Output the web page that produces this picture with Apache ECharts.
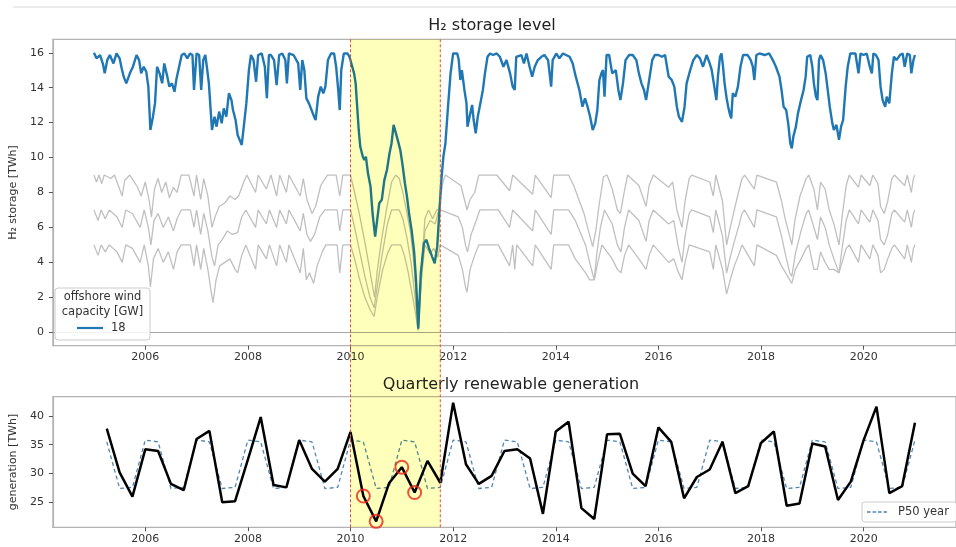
<!DOCTYPE html>
<html><head><meta charset="utf-8">
<script src="https://cdn.jsdelivr.net/npm/echarts@6/dist/echarts.min.js"></script>
<style>html,body{margin:0;padding:0;background:#fff}#c{width:956px;height:547px}</style>
</head><body><div id="c"></div>
<script>
// ---------- tick labels ----------
const yearTicks = [2006, 2008, 2010, 2012, 2014, 2016, 2018, 2020];
const storageTicks = [0, 2, 4, 6, 8, 10, 12, 14, 16];
const genTicks = [25, 30, 35, 40];
const highlightSpan = [2010.0, 2011.75];

// ---------- top panel: H2 storage level [TWh], 18 GW offshore wind ----------
const storage18 = [[2005.00,16.0],[2005.05,15.68],[2005.12,15.87],[2005.18,15.30],[2005.21,14.82],[2005.26,15.58],[2005.31,15.87],[2005.38,15.39],[2005.44,15.96],[2005.50,15.68],[2005.54,15.11],[2005.58,14.63],[2005.63,14.25],[2005.70,14.82],[2005.76,15.20],[2005.83,15.87],[2005.88,15.58],[2005.92,14.82],[2005.97,15.20],[2006.02,14.91],[2006.06,14.06],[2006.10,11.58],[2006.15,12.34],[2006.19,13.10],[2006.23,15.20],[2006.28,14.82],[2006.33,14.25],[2006.37,15.39],[2006.43,14.63],[2006.47,14.06],[2006.52,14.25],[2006.57,13.77],[2006.61,14.53],[2006.66,15.20],[2006.71,15.87],[2006.76,15.96],[2006.82,15.68],[2006.87,15.96],[2006.92,15.87],[2006.95,13.87],[2007.00,15.96],[2007.05,15.87],[2007.09,13.87],[2007.13,15.58],[2007.17,15.87],[2007.20,15.20],[2007.24,14.25],[2007.30,11.58],[2007.35,12.34],[2007.39,11.77],[2007.44,12.63],[2007.49,11.96],[2007.53,12.82],[2007.58,12.34],[2007.63,13.68],[2007.68,13.29],[2007.71,12.72],[2007.76,12.15],[2007.80,11.29],[2007.84,11.01],[2007.88,10.72],[2007.92,11.77],[2007.97,13.10],[2008.02,15.01],[2008.06,15.87],[2008.11,15.58],[2008.16,14.34],[2008.20,15.87],[2008.27,15.96],[2008.33,15.2],[2008.37,13.4],[2008.41,15.87],[2008.45,15.87],[2008.51,15.58],[2008.56,14.15],[2008.61,15.87],[2008.67,15.96],[2008.73,15.58],[2008.76,14.25],[2008.80,15.96],[2008.89,15.87],[2008.98,15.39],[2009.02,13.87],[2009.06,15.58],[2009.10,15.01],[2009.14,13.39],[2009.19,13.10],[2009.24,12.72],[2009.29,12.34],[2009.32,12.15],[2009.37,13.49],[2009.42,14.06],[2009.47,13.68],[2009.51,14.06],[2009.56,15.58],[2009.62,15.96],[2009.68,15.96],[2009.72,15.20],[2009.76,13.87],[2009.79,12.72],[2009.82,15.01],[2009.87,15.96],[2009.94,15.96],[2009.98,15.77],[2010.01,15.68],[2010.07,14.82],[2010.10,14.25],[2010.13,12.91],[2010.16,11.58],[2010.19,10.63],[2010.24,10.05],[2010.27,9.86],[2010.30,10.05],[2010.34,9.10],[2010.39,8.34],[2010.43,6.81],[2010.48,5.48],[2010.52,6.43],[2010.56,7.39],[2010.61,7.58],[2010.66,8.72],[2010.71,9.29],[2010.76,10.24],[2010.80,10.82],[2010.84,11.87],[2010.87,11.77],[2010.92,11.01],[2010.97,10.43],[2011.01,9.67],[2011.06,8.53],[2011.10,7.77],[2011.14,6.81],[2011.19,5.86],[2011.24,4.6],[2011.28,2.8],[2011.32,0.2],[2011.37,3.38],[2011.43,5.1],[2011.48,5.29],[2011.53,4.81],[2011.59,4.33],[2011.64,3.95],[2011.69,4.9],[2011.73,6.8],[2011.77,8.7],[2011.81,10.05],[2011.85,10.82],[2011.90,12.91],[2011.95,14.82],[2012.00,15.96],[2012.08,15.96],[2012.11,15.58],[2012.14,14.44],[2012.17,15.01],[2012.22,13.87],[2012.26,13.10],[2012.28,11.77],[2012.32,12.34],[2012.37,13.01],[2012.40,12.15],[2012.44,11.39],[2012.48,12.34],[2012.53,13.10],[2012.58,13.87],[2012.62,14.82],[2012.67,15.77],[2012.72,15.96],[2012.78,15.87],[2012.85,15.96],[2012.91,15.77],[2012.98,15.20],[2013.04,15.58],[2013.11,14.82],[2013.16,14.06],[2013.20,13.87],[2013.23,15.77],[2013.33,15.87],[2013.38,15.39],[2013.43,15.96],[2013.49,15.20],[2013.54,14.63],[2013.59,15.20],[2013.65,15.58],[2013.72,15.77],[2013.78,15.87],[2013.85,15.58],[2013.91,14.06],[2013.94,15.58],[2014.01,15.96],[2014.07,15.68],[2014.14,15.96],[2014.20,15.87],[2014.27,15.77],[2014.33,15.39],[2014.39,14.63],[2014.46,13.87],[2014.52,12.91],[2014.57,13.39],[2014.62,12.91],[2014.67,12.34],[2014.72,11.58],[2014.77,11.96],[2014.81,12.72],[2014.85,14.44],[2014.89,14.82],[2014.92,15.01],[2014.95,13.49],[2014.99,15.87],[2015.04,15.87],[2015.10,14.82],[2015.17,15.01],[2015.22,13.87],[2015.26,13.29],[2015.31,14.25],[2015.36,15.58],[2015.43,15.87],[2015.50,15.87],[2015.57,15.58],[2015.62,14.82],[2015.67,14.25],[2015.72,13.87],[2015.76,13.29],[2015.81,14.25],[2015.88,15.58],[2015.93,15.87],[2016.00,15.87],[2016.07,15.77],[2016.13,15.87],[2016.20,14.63],[2016.26,14.44],[2016.31,14.06],[2016.36,12.91],[2016.40,12.34],[2016.46,12.05],[2016.51,12.91],[2016.55,14.25],[2016.62,15.01],[2016.68,15.58],[2016.75,15.87],[2016.81,15.68],[2016.87,15.20],[2016.94,15.87],[2017.00,15.39],[2017.04,15.0],[2017.09,14.06],[2017.13,13.29],[2017.16,14.63],[2017.20,15.77],[2017.23,15.96],[2017.26,15.20],[2017.29,14.25],[2017.33,13.39],[2017.36,12.91],[2017.39,12.53],[2017.42,12.24],[2017.45,13.68],[2017.50,13.49],[2017.55,14.06],[2017.60,15.20],[2017.65,15.87],[2017.74,15.87],[2017.80,15.58],[2017.84,15.20],[2017.87,14.44],[2017.91,15.87],[2017.97,15.96],[2018.07,15.87],[2018.16,15.96],[2018.23,15.58],[2018.29,15.20],[2018.36,14.63],[2018.40,13.87],[2018.44,12.91],[2018.49,12.72],[2018.53,11.96],[2018.57,10.82],[2018.60,10.53],[2018.63,11.20],[2018.68,11.77],[2018.72,12.53],[2018.78,13.29],[2018.83,13.87],[2018.87,14.63],[2018.90,15.77],[2018.96,15.87],[2019.00,15.20],[2019.03,14.25],[2019.07,13.49],[2019.10,13.29],[2019.13,15.58],[2019.16,15.87],[2019.21,15.58],[2019.26,14.82],[2019.30,13.87],[2019.34,12.91],[2019.39,11.96],[2019.42,11.58],[2019.47,11.87],[2019.52,11.01],[2019.56,11.77],[2019.60,12.15],[2019.65,14.06],[2019.69,15.20],[2019.74,15.96],[2019.84,15.96],[2019.90,14.82],[2019.94,15.96],[2020.00,15.87],[2020.06,15.96],[2020.12,15.20],[2020.16,14.82],[2020.19,15.96],[2020.24,15.87],[2020.29,15.58],[2020.33,14.06],[2020.37,13.29],[2020.42,12.91],[2020.45,13.49],[2020.50,13.10],[2020.55,14.82],[2020.59,15.77],[2020.64,15.58],[2020.71,15.87],[2020.76,15.96],[2020.80,15.20],[2020.85,15.96],[2020.90,15.87],[2020.93,14.82],[2020.97,15.58],[2021.00,15.87]];

// other capacities (grey)
const storageCap9 = [[2005.00,9.0],[2005.05,8.6],[2005.10,9.0],[2005.15,8.5],[2005.20,9.0],[2005.33,8.8],[2005.40,9.0],[2005.55,7.8],[2005.60,8.7],[2005.70,9.0],[2005.85,8.3],[2005.92,7.8],[2006.00,8.6],[2006.08,7.5],[2006.12,6.6],[2006.18,8.2],[2006.25,8.8],[2006.32,8.0],[2006.40,8.6],[2006.47,7.7],[2006.55,8.3],[2006.62,8.0],[2006.70,9.0],[2006.85,9.0],[2006.95,7.8],[2007.00,9.0],[2007.08,7.6],[2007.14,8.8],[2007.22,7.8],[2007.30,6.0],[2007.36,6.6],[2007.44,7.2],[2007.55,7.4],[2007.65,7.8],[2007.75,7.6],[2007.82,7.8],[2007.92,8.6],[2007.98,9.0],[2008.15,8.0],[2008.20,9.0],[2008.36,8.2],[2008.45,9.0],[2008.56,7.8],[2008.62,9.0],[2008.75,8.0],[2008.80,9.0],[2009.02,7.8],[2009.08,8.8],[2009.15,7.6],[2009.25,6.8],[2009.32,7.2],[2009.42,8.4],[2009.55,9.0],[2009.72,9.0],[2009.79,7.8],[2009.85,9.0],[2010.00,9.0],[2010.08,8.0],[2010.17,6.8],[2010.27,5.3],[2010.35,4.0],[2010.42,2.8],[2010.47,2.0],[2010.52,3.5],[2010.60,5.2],[2010.70,7.0],[2010.80,8.6],[2010.88,9.0],[2010.95,8.8],[2011.02,8.0],[2011.10,6.8],[2011.17,5.7],[2011.24,3.8],[2011.32,0.3],[2011.38,3.0],[2011.45,5.8],[2011.55,6.4],[2011.65,6.2],[2011.72,7.0],[2011.80,8.6],[2011.85,9.0],[2012.15,8.4],[2012.22,7.6],[2012.27,7.0],[2012.33,7.6],[2012.42,8.0],[2012.50,9.0],[2012.85,9.0],[2013.10,8.1],[2013.16,9.0],[2013.55,7.9],[2013.60,9.0],[2013.91,7.7],[2013.96,9.0],[2014.25,9.0],[2014.35,8.4],[2014.45,7.6],[2014.55,6.8],[2014.62,6.0],[2014.72,4.9],[2014.78,5.8],[2014.85,7.4],[2014.93,8.9],[2015.00,9.0],[2015.10,8.2],[2015.20,7.0],[2015.26,6.8],[2015.32,7.8],[2015.40,9.0],[2015.62,8.4],[2015.76,7.2],[2015.82,8.4],[2015.90,9.0],[2016.20,8.3],[2016.28,8.6],[2016.36,7.0],[2016.46,6.0],[2016.52,7.5],[2016.60,8.8],[2016.65,9.0],[2017.00,8.6],[2017.07,7.8],[2017.12,9.0],[2017.25,7.5],[2017.33,5.0],[2017.40,6.0],[2017.48,7.0],[2017.56,8.0],[2017.63,8.8],[2017.68,9.0],[2017.87,8.2],[2017.92,9.0],[2018.30,8.6],[2018.40,7.5],[2018.47,6.5],[2018.55,5.6],[2018.60,5.0],[2018.66,6.4],[2018.76,7.8],[2018.88,8.8],[2018.93,9.0],[2019.03,8.2],[2019.10,7.0],[2019.16,8.6],[2019.25,8.2],[2019.33,7.0],[2019.42,6.2],[2019.52,5.0],[2019.58,6.6],[2019.66,8.4],[2019.72,9.0],[2019.90,8.3],[2019.95,9.0],[2020.12,8.4],[2020.18,9.0],[2020.28,8.5],[2020.33,7.2],[2020.40,6.8],[2020.47,7.5],[2020.55,8.8],[2020.60,9.0],[2020.80,8.4],[2020.85,9.0],[2020.93,8.0],[2020.97,8.8],[2021.00,9.0]];

const storageCap7 = [[2005.00,7.0],[2005.08,6.4],[2005.14,7.0],[2005.22,6.5],[2005.30,7.0],[2005.45,6.6],[2005.55,6.0],[2005.62,7.0],[2005.75,6.8],[2005.90,6.0],[2005.98,7.0],[2006.06,6.0],[2006.11,5.0],[2006.17,6.4],[2006.25,6.8],[2006.35,6.0],[2006.45,6.6],[2006.55,5.8],[2006.62,6.5],[2006.70,7.0],[2006.88,7.0],[2006.95,6.0],[2007.00,7.0],[2007.08,5.6],[2007.14,6.8],[2007.22,5.8],[2007.30,4.3],[2007.35,3.8],[2007.42,5.0],[2007.50,5.3],[2007.60,5.8],[2007.70,5.6],[2007.80,5.7],[2007.88,6.6],[2007.96,7.0],[2008.15,6.0],[2008.20,7.0],[2008.36,6.2],[2008.42,7.0],[2008.56,6.0],[2008.62,7.0],[2008.75,6.2],[2008.80,7.0],[2009.02,5.8],[2009.08,6.8],[2009.15,5.6],[2009.22,5.2],[2009.30,5.6],[2009.40,6.6],[2009.50,7.0],[2009.74,7.0],[2009.79,5.8],[2009.85,7.0],[2010.00,7.0],[2010.08,6.0],[2010.18,4.6],[2010.28,3.2],[2010.38,2.0],[2010.46,1.4],[2010.52,2.6],[2010.62,4.5],[2010.72,6.2],[2010.80,7.0],[2010.95,7.0],[2011.02,6.5],[2011.10,5.4],[2011.18,4.0],[2011.25,2.2],[2011.32,0.1],[2011.38,3.5],[2011.45,6.5],[2011.52,7.0],[2011.60,6.5],[2011.68,7.0],[2011.75,7.0],[2012.10,6.6],[2012.18,6.0],[2012.24,5.0],[2012.28,4.6],[2012.35,5.6],[2012.45,6.4],[2012.52,7.0],[2012.88,7.0],[2013.10,6.0],[2013.16,7.0],[2013.55,5.8],[2013.60,7.0],[2013.91,5.6],[2013.96,7.0],[2014.25,7.0],[2014.38,6.4],[2014.48,5.7],[2014.58,5.0],[2014.66,4.0],[2014.75,3.0],[2014.80,4.5],[2014.87,6.0],[2014.95,7.0],[2015.10,6.2],[2015.20,5.0],[2015.27,4.6],[2015.34,6.0],[2015.42,7.0],[2015.62,6.4],[2015.76,5.2],[2015.82,6.4],[2015.90,7.0],[2016.20,6.2],[2016.30,6.4],[2016.38,5.0],[2016.46,4.0],[2016.52,5.5],[2016.60,6.8],[2016.65,7.0],[2017.00,6.6],[2017.07,5.7],[2017.12,7.0],[2017.25,5.5],[2017.33,3.4],[2017.40,4.3],[2017.48,5.2],[2017.56,6.0],[2017.63,6.8],[2017.68,7.0],[2017.87,6.0],[2017.92,7.0],[2018.30,6.6],[2018.40,5.5],[2018.48,4.4],[2018.56,3.4],[2018.60,3.2],[2018.67,4.5],[2018.78,5.8],[2018.88,6.8],[2018.93,7.0],[2019.03,6.0],[2019.10,5.3],[2019.16,6.6],[2019.25,6.0],[2019.33,5.0],[2019.42,4.2],[2019.52,3.4],[2019.58,4.8],[2019.66,6.4],[2019.72,7.0],[2019.90,6.2],[2019.95,7.0],[2020.12,6.3],[2020.18,7.0],[2020.28,6.4],[2020.33,5.3],[2020.40,5.0],[2020.47,5.6],[2020.55,6.8],[2020.60,7.0],[2020.80,6.3],[2020.85,7.0],[2020.93,6.0],[2020.97,6.8],[2021.00,7.0]];

const storageCap5 = [[2005.00,5.0],[2005.08,4.4],[2005.14,5.0],[2005.22,4.6],[2005.30,5.0],[2005.45,4.6],[2005.55,4.0],[2005.62,5.0],[2005.75,4.8],[2005.90,4.0],[2005.98,5.0],[2006.06,3.8],[2006.10,2.6],[2006.16,4.2],[2006.25,4.8],[2006.35,4.0],[2006.45,4.6],[2006.55,3.6],[2006.62,4.6],[2006.70,5.0],[2006.88,5.0],[2006.95,3.8],[2007.00,5.0],[2007.08,3.6],[2007.14,4.8],[2007.22,3.6],[2007.28,2.4],[2007.32,1.7],[2007.38,3.0],[2007.45,3.8],[2007.55,4.0],[2007.65,4.2],[2007.75,3.6],[2007.80,3.4],[2007.88,4.4],[2007.96,5.0],[2008.15,3.6],[2008.20,5.0],[2008.36,4.2],[2008.42,5.0],[2008.56,3.8],[2008.62,5.0],[2008.75,4.0],[2008.80,5.0],[2009.02,3.4],[2009.08,4.8],[2009.14,3.0],[2009.20,3.4],[2009.28,2.8],[2009.35,3.8],[2009.45,4.6],[2009.52,5.0],[2009.74,5.0],[2009.79,3.4],[2009.85,5.0],[2010.00,5.0],[2010.08,4.2],[2010.18,3.0],[2010.28,2.0],[2010.38,1.3],[2010.46,0.9],[2010.52,2.0],[2010.62,3.5],[2010.72,4.5],[2010.80,5.0],[2010.98,5.0],[2011.05,4.4],[2011.12,3.5],[2011.20,2.2],[2011.26,1.2],[2011.32,0.1],[2011.38,3.0],[2011.45,5.0],[2011.55,4.5],[2011.62,4.8],[2011.70,4.3],[2011.75,5.0],[2012.10,4.4],[2012.18,3.6],[2012.24,2.6],[2012.27,2.3],[2012.33,3.6],[2012.42,4.4],[2012.50,5.0],[2012.88,5.0],[2013.10,3.8],[2013.16,5.0],[2013.20,3.6],[2013.24,5.0],[2013.55,3.8],[2013.60,5.0],[2013.91,3.6],[2013.96,5.0],[2014.25,5.0],[2014.38,4.2],[2014.48,3.8],[2014.58,3.4],[2014.66,3.0],[2014.75,3.0],[2014.82,4.0],[2014.90,5.0],[2015.10,4.2],[2015.20,3.6],[2015.27,3.4],[2015.34,4.4],[2015.42,5.0],[2015.62,4.2],[2015.76,3.6],[2015.82,4.4],[2015.90,5.0],[2016.20,4.0],[2016.30,4.2],[2016.38,3.5],[2016.46,3.0],[2016.52,4.0],[2016.60,5.0],[2017.00,4.6],[2017.07,3.6],[2017.12,5.0],[2017.25,3.6],[2017.33,2.2],[2017.40,3.0],[2017.48,3.8],[2017.56,4.4],[2017.63,5.0],[2017.87,3.8],[2017.92,5.0],[2018.30,4.4],[2018.40,3.8],[2018.48,3.4],[2018.56,3.0],[2018.60,2.8],[2018.67,3.6],[2018.78,4.2],[2018.88,4.8],[2018.93,5.0],[2019.03,3.6],[2019.10,3.6],[2019.16,4.6],[2019.25,4.0],[2019.33,3.6],[2019.42,3.6],[2019.52,3.4],[2019.58,4.0],[2019.66,4.8],[2019.72,5.0],[2019.90,4.0],[2019.95,5.0],[2020.12,4.2],[2020.18,5.0],[2020.28,4.4],[2020.33,3.4],[2020.40,3.6],[2020.47,4.2],[2020.55,4.8],[2020.60,5.0],[2020.80,4.2],[2020.85,5.0],[2020.93,4.0],[2020.97,4.8],[2021.00,5.0]];

// ---------- bottom panel: quarterly renewable generation [TWh] ----------
const quarters = [2005.25,2005.5,2005.75,2006.0,2006.25,2006.5,2006.75,2007.0,2007.25,2007.5,2007.75,2008.0,2008.25,2008.5,2008.75,2009.0,2009.25,2009.5,2009.75,2010.0,2010.25,2010.5,2010.75,2011.0,2011.25,2011.5,2011.75,2012.0,2012.25,2012.5,2012.75,2013.0,2013.25,2013.5,2013.75,2014.0,2014.25,2014.5,2014.75,2015.0,2015.25,2015.5,2015.75,2016.0,2016.25,2016.5,2016.75,2017.0,2017.25,2017.5,2017.75,2018.0,2018.25,2018.5,2018.75,2019.0,2019.25,2019.5,2019.75,2020.0,2020.25,2020.5,2020.75,2021.0];
const generation = [37.8,30.2,26.0,34.2,33.9,28.2,27.1,36.0,37.4,25.0,25.2,32.4,39.8,28.0,27.6,35.8,30.8,28.6,30.8,37.2,26.1,21.7,28.3,31.1,26.7,32.2,28.4,42.3,31.6,28.2,29.6,33.9,34.2,32.6,23.0,37.3,39.0,24.0,22.1,36.8,36.9,30.0,27.8,38.0,35.5,25.7,29.4,30.7,35.5,26.6,27.8,35.3,37.3,24.4,24.8,35.2,34.7,25.4,28.6,35.8,41.6,26.6,27.8,38.8];
const p50Year = [35.5,27.4,27.6,35.8,35.5,27.4,27.6,35.8,35.5,27.4,27.6,35.8,35.5,27.4,27.6,35.8,35.5,27.4,27.6,35.8,35.5,27.4,27.6,35.8,35.5,27.4,27.6,35.8,35.5,27.4,27.6,35.8,35.5,27.4,27.6,35.8,35.5,27.4,27.6,35.8,35.5,27.4,27.6,35.8,35.5,27.4,27.6,35.8,35.5,27.4,27.6,35.8,35.5,27.4,27.6,35.8,35.5,27.4,27.6,35.8,35.5,27.4,27.6,35.8];
const circledQuarters = [2010.25, 2010.5, 2011.0, 2011.25];
const circledValues = [26.1, 21.7, 31.1, 26.7];

const FONT = 'DejaVu Sans';
const chart = echarts.init(document.getElementById('c'), null, {renderer: 'canvas'});

function xAxisCfg(gridIndex) {
  return {
    type: 'value', gridIndex: gridIndex, min: 2004.2, max: 2021.8,
    axisLine: {show: true, onZero: false, lineStyle: {color: '#b3b3b3', width: 1.2}},
    axisTick: {show: true, customValues: yearTicks, length: 4, lineStyle: {color: '#555'}},
    axisLabel: {customValues: yearTicks, formatter: v => String(v), fontSize: 11, color: '#333', margin: 6, fontFamily: FONT},
    splitLine: {show: false}
  };
}

const option = {
  animation: false,
  backgroundColor: '#fff',
  textStyle: {fontFamily: FONT},
  title: [
    {text: 'H\u2082 storage level', left: 487, top: 13, textAlign: 'center',
     textStyle: {fontSize: 16, fontWeight: 'normal', color: '#222', fontFamily: FONT}},
    {text: 'Quarterly renewable generation', left: 506, top: 372, textAlign: 'center',
     textStyle: {fontSize: 16, fontWeight: 'normal', color: '#222', fontFamily: FONT}}
  ],
  grid: [
    {left: 50.7, right: -5.5, top: 39.3, bottom: 201.3, show: true, borderColor: '#b3b3b3', borderWidth: 1.2},
    {left: 50.7, right: -5.5, top: 396.7, bottom: 19.7, show: true, borderColor: '#b3b3b3', borderWidth: 1.2}
  ],
  xAxis: [xAxisCfg(0), xAxisCfg(1)],
  yAxis: [
    {type: 'value', gridIndex: 0, min: -0.77, max: 16.77,
     name: 'H\u2082 storage [TWh]', nameLocation: 'middle', nameGap: 26,
     nameTextStyle: {fontSize: 11, color: '#333', fontFamily: FONT},
     axisLine: {show: true, lineStyle: {color: '#b3b3b3', width: 1.2}},
     axisTick: {show: true, customValues: storageTicks, length: 4, lineStyle: {color: '#555'}},
     axisLabel: {customValues: storageTicks, fontSize: 11, color: '#333', margin: 9, fontFamily: FONT},
     splitLine: {show: false}},
    {type: 'value', gridIndex: 1, min: 20.67, max: 43.33,
     name: 'generation [TWh]', nameLocation: 'middle', nameGap: 26,
     nameTextStyle: {fontSize: 11, color: '#333', fontFamily: FONT},
     axisLine: {show: true, lineStyle: {color: '#b3b3b3', width: 1.2}},
     axisTick: {show: true, customValues: genTicks, length: 4, lineStyle: {color: '#555'}},
     axisLabel: {customValues: genTicks, fontSize: 11, color: '#333', margin: 9, fontFamily: FONT},
     splitLine: {show: false}}
  ],
  legend: [
    {data: [{name: '18', icon: 'rect'}], left: 77, top: 322, itemWidth: 26, itemHeight: 2.2, padding: 0,
     textStyle: {fontSize: 11.5, color: '#333', fontFamily: FONT, padding: [0, 0, 0, 3]}, z: 110},
    {data: [{name: 'P50 year', icon: 'path://M0,0h3.6v1.3h-3.6z M5.5,0h3.6v1.3h-3.6z M11,0h3.6v1.3h-3.6z M16.5,0h3.5v1.3h-3.5z'}],
     left: 862, top: 502, itemWidth: 20, itemHeight: 1.3,
     padding: [4, 8, 4, 5], borderColor: '#cccccc', borderWidth: 1, borderRadius: 3,
     backgroundColor: 'rgba(255,255,255,0.85)',
     textStyle: {fontSize: 11.5, color: '#333', fontFamily: FONT, padding: [0, 0, 0, 6]}, z: 110}
  ],
  series: [
    {name: 'cap9', type: 'line', xAxisIndex: 0, yAxisIndex: 0, data: storageCap9, symbol: 'none', silent: true,
     lineStyle: {color: '#c0c0c0', width: 1.3}, z: 2,
     markLine: {silent: true, symbol: 'none', label: {show: false},
       lineStyle: {color: '#a6a6a6', width: 1, type: 'solid'}, data: [{yAxis: 0}]}},
    {name: 'cap7', type: 'line', xAxisIndex: 0, yAxisIndex: 0, data: storageCap7, symbol: 'none', silent: true,
     lineStyle: {color: '#c0c0c0', width: 1.3}, z: 2},
    {name: 'cap5', type: 'line', xAxisIndex: 0, yAxisIndex: 0, data: storageCap5, symbol: 'none', silent: true,
     lineStyle: {color: '#c0c0c0', width: 1.3}, z: 2},
    {name: '18', type: 'line', xAxisIndex: 0, yAxisIndex: 0, data: storage18, symbol: 'none',
     lineStyle: {color: '#1f77b4', width: 2.4}, itemStyle: {color: '#1f77b4'}, z: 3},
    {name: 'P50 year', type: 'line', xAxisIndex: 1, yAxisIndex: 1,
     data: quarters.map((q, i) => [q, p50Year[i]]), symbol: 'none',
     lineStyle: {color: '#4f87b3', width: 1.3, type: [4, 3]}, itemStyle: {color: '#4f87b3'}, z: 2},
    {name: 'generation', type: 'line', xAxisIndex: 1, yAxisIndex: 1,
     data: quarters.map((q, i) => [q, generation[i]]), symbol: 'none',
     lineStyle: {color: '#000', width: 2.5}, z: 3},
    {name: 'circled', type: 'scatter', xAxisIndex: 1, yAxisIndex: 1,
     data: circledQuarters.map((q, i) => [q, circledValues[i]]), symbol: 'circle', symbolSize: 13,
     itemStyle: {color: 'rgba(0,0,0,0)', borderColor: '#e8251f', borderWidth: 2}, z: 4}
  ]
};
chart.setOption(option);

// highlight span and boundary lines through the library's scales
const xa = chart.convertToPixel({xAxisIndex: 0}, highlightSpan[0]);
const xb = chart.convertToPixel({xAxisIndex: 0}, highlightSpan[1]);
const yTop = chart.convertToPixel({yAxisIndex: 0}, 16.77);
const yBot = chart.convertToPixel({yAxisIndex: 1}, 20.67);

chart.setOption({
  graphic: [
    {type: 'line', silent: true, z: 1, shape: {x1: 13, y1: 7, x2: 956, y2: 7},
     style: {stroke: '#e6e6e6', lineWidth: 1.5}},
    {type: 'rect', silent: true, z: 50, zlevel: 0, shape: {x: xa, y: yTop, width: xb - xa, height: yBot - yTop},
     style: {fill: 'rgb(255,255,188)', blend: 'multiply'}},
    {type: 'line', silent: true, z: 51, shape: {x1: xa, y1: yTop, x2: xa, y2: yBot},
     style: {stroke: '#e0523f', lineWidth: 1, lineDash: [3, 2]}},
    {type: 'line', silent: true, z: 51, shape: {x1: xb, y1: yTop, x2: xb, y2: yBot},
     style: {stroke: '#e0523f', lineWidth: 1, lineDash: [3, 2]}},
    {type: 'rect', silent: true, z: 100, shape: {x: 55, y: 288, width: 95, height: 52, r: 3},
     style: {fill: 'rgba(255,255,255,0.85)', stroke: '#cccccc', lineWidth: 1}},
    {type: 'text', silent: true, z: 101, x: 102.5, y: 290,
     style: {text: 'offshore wind\ncapacity [GW]', fill: '#333', font: '11.5px "DejaVu Sans"',
             align: 'center', verticalAlign: 'top', lineHeight: 15}}
  ]
});
</script>
</body></html>
